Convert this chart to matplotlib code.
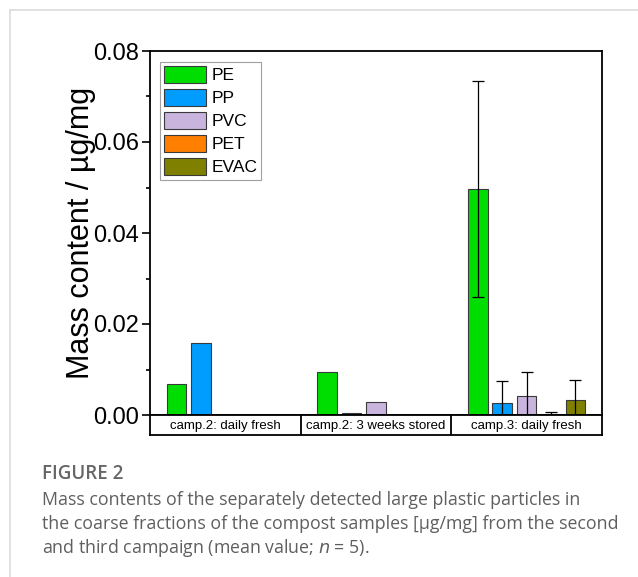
import numpy as np
import matplotlib
matplotlib.use("Agg")
import matplotlib.pyplot as plt
from matplotlib.lines import Line2D
from matplotlib.ticker import MultipleLocator

# ----------------------------------------------------------------------
# DATA
# ----------------------------------------------------------------------

groups = ["camp.2: daily fresh", "camp.2: 3 weeks stored", "camp.3: daily fresh"]
polymers = ["PE", "PP", "PVC", "PET", "EVAC"]
colors = ["#00dd00", "#009dff", "#c8b4dc", "#ff7f00", "#808000"]

# mass content per polymer, one value per group (nan = no bar)
mean_PE = [0.0068, 0.0094, 0.0497]
mean_PP = [0.0158, 0.0004, 0.0026]
mean_PVC = [np.nan, 0.0029, 0.0042]
mean_PET = [np.nan, np.nan, 0.0003]
mean_EVAC = [np.nan, np.nan, 0.0034]

# standard deviations (only campaign 3 has error bars)
sd_PE = [np.nan, np.nan, 0.0237]
sd_PP = [np.nan, np.nan, 0.0049]
sd_PVC = [np.nan, np.nan, 0.0052]
sd_PET = [np.nan, np.nan, 0.0003]
sd_EVAC = [np.nan, np.nan, 0.0043]

means = [mean_PE, mean_PP, mean_PVC, mean_PET, mean_EVAC]
sds = [sd_PE, sd_PP, sd_PVC, sd_PET, sd_EVAC]

caption_title = "FIGURE 2"
caption_lines = [
    "Mass contents of the separately detected large plastic particles in",
    "the coarse fractions of the compost samples [\u00b5g/mg] from the second",
    "and third campaign (mean value; $\\it{n}$ = 5).",
]

# ----------------------------------------------------------------------
# PLOT
# ----------------------------------------------------------------------

plt.rcParams["font.family"] = ["Liberation Sans", "DejaVu Sans"]

W, H = 638, 577
fig = plt.figure(figsize=(W / 100, H / 100), dpi=100)

# light card border (top and left edges)
fig.add_artist(Line2D([10 / W, 1.0], [1 - 10 / H, 1 - 10 / H],
                      color="#dcdcdc", lw=1.2, transform=fig.transFigure))
fig.add_artist(Line2D([10 / W, 10 / W], [0.0, 1 - 10 / H],
                      color="#dcdcdc", lw=1.2, transform=fig.transFigure))

left, right, top, bottom, box_bottom = 150, 602, 51, 415, 435
ax = fig.add_axes([left / W, 1 - bottom / H, (right - left) / W, (bottom - top) / H])

x = np.arange(len(groups))
width = 0.13
step = 0.162

for i, (name, col) in enumerate(zip(polymers, colors)):
    pos = x + (i - 2) * step
    ax.bar(pos, means[i], width, color=col, edgecolor="#3a3a3a",
           linewidth=0.8, label=name, zorder=2)
    ax.errorbar(pos, means[i], yerr=sds[i], fmt="none", ecolor="black",
                elinewidth=0.9, capsize=4.5, capthick=0.9, zorder=3)

ax.set_xlim(-0.5, 2.5)
ax.set_ylim(0, 0.08)
ax.yaxis.set_major_locator(MultipleLocator(0.02))
ax.yaxis.set_minor_locator(MultipleLocator(0.01))
ax.yaxis.set_major_formatter(plt.FormatStrFormatter("%.2f"))
ax.set_xticks([])
ax.tick_params(axis="y", which="major", direction="out", length=6,
               width=1.2, labelsize=17, pad=2)
ax.tick_params(axis="y", which="minor", direction="out", length=3, width=1.2)
for sp in ax.spines.values():
    sp.set_linewidth(1.3)
ax.set_ylabel("Mass content / \u00b5g/mg", fontsize=22, labelpad=-2)

leg = ax.legend(loc="upper left", bbox_to_anchor=(0.022, 0.97), fontsize=12.5,
                frameon=True, fancybox=False, edgecolor="#888888",
                handlelength=2.4, handleheight=1.1, handletextpad=0.3,
                labelspacing=0.33, borderpad=0.25, borderaxespad=0.0)
leg.get_frame().set_linewidth(0.8)

# category label strip under the axis
axb = fig.add_axes([left / W, 1 - box_bottom / H, (right - left) / W,
                    (box_bottom - bottom) / H])
axb.set_xlim(-0.5, 2.5)
axb.set_ylim(0, 1)
axb.set_xticks([])
axb.set_yticks([])
for sp in axb.spines.values():
    sp.set_linewidth(1.3)
for k, g in enumerate(groups):
    axb.text(x[k], 0.45, g, ha="center", va="center", fontsize=9.5)
    if k > 0:
        axb.axvline(k - 0.5, color="black", lw=1.3)

# caption
fig.text(42 / W, 1 - 479 / H, caption_title, fontsize=13.5, color="#666666",
         family=["Open Sans", "DejaVu Sans"], weight="semibold", va="baseline")
for j, line in enumerate(caption_lines):
    fig.text(42 / W, 1 - (505 + 24 * j) / H, line, fontsize=12.8,
             color="#5f5f5f", family=["Open Sans", "DejaVu Sans"], va="baseline")

fig.savefig("out.png", dpi=100)
